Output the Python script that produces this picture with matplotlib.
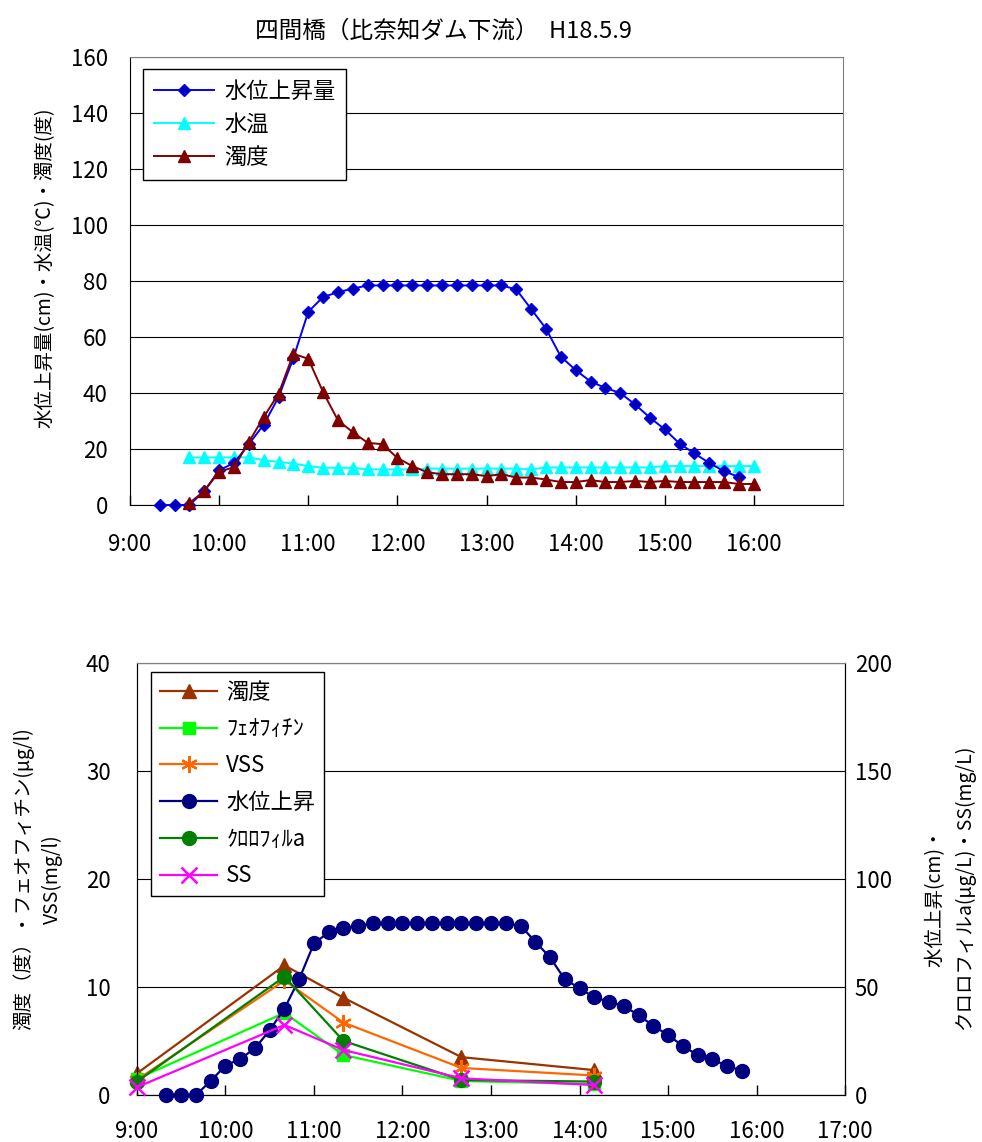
import matplotlib
matplotlib.use('Agg')
import matplotlib.pyplot as plt

plt.rcParams['font.family'] = ['Noto Sans CJK JP', 'DejaVu Sans']

# ---------------- data ----------------
title = '四間橋（比奈知ダム下流）  H18.5.9'

# water level, every 10 min from 9:20 to 15:50
level_times = ['9:20', '9:30', '9:40', '9:50', '10:00', '10:10', '10:20', '10:30', '10:40', '10:50',
               '11:00', '11:10', '11:20', '11:30', '11:40', '11:50', '12:00', '12:10', '12:20', '12:30',
               '12:40', '12:50', '13:00', '13:10', '13:20', '13:30', '13:40', '13:50', '14:00', '14:10',
               '14:20', '14:30', '14:40', '14:50', '15:00', '15:10', '15:20', '15:30', '15:40', '15:50']
level_top = [0, 0, 0, 5, 12.4, 15, 21.7, 28.7, 38.5, 52.5,
             69, 74.3, 76, 77.3, 78.4, 78.4, 78.4, 78.4, 78.4, 78.4,
             78.4, 78.4, 78.4, 78.4, 77, 70, 63, 53, 48.2, 44.1,
             41.8, 40, 35.9, 31.2, 27, 21.9, 18.4, 15, 12, 10]

# water temperature / turbidity, every 10 min from 9:40 to 16:00
probe_times = ['9:40', '9:50', '10:00', '10:10', '10:20', '10:30', '10:40', '10:50', '11:00', '11:10',
               '11:20', '11:30', '11:40', '11:50', '12:00', '12:10', '12:20', '12:30', '12:40', '12:50',
               '13:00', '13:10', '13:20', '13:30', '13:40', '13:50', '14:00', '14:10', '14:20', '14:30',
               '14:40', '14:50', '15:00', '15:10', '15:20', '15:30', '15:40', '15:50', '16:00']
water_temp = [17, 17, 17, 17, 17, 16, 15.4, 14.8, 13.9, 13.3,
              13.3, 13.3, 12.7, 12.7, 12.7, 12.7, 13, 13, 13, 13,
              13, 13, 13, 12.7, 13.4, 13.4, 13.4, 13.4, 13.4, 13.4,
              13.4, 13.4, 13.9, 13.9, 13.9, 13.9, 13.9, 13.9, 13.9]
turbidity_top = [0.7, 5, 11.9, 13.5, 22.5, 31.4, 39.7, 54, 52.2, 40.3,
                 30.2, 26, 22.2, 21.7, 16.8, 13.9, 11.7, 11, 11, 11,
                 10.3, 11, 9.8, 9.8, 9.1, 8.2, 8.2, 8.9, 8.2, 8.2,
                 8.6, 8.2, 8.6, 8.2, 8.2, 8.2, 8.2, 7.5, 7.5]

# bottom chart: water level on the right axis
level_bottom = [0, 0, 0, 6.5, 13.6, 16.7, 21.6, 30, 40, 53.7,
                70.2, 75.3, 77.2, 78.4, 79.5, 79.5, 79.5, 79.5, 79.5, 79.5,
                79.5, 79.5, 79.5, 79.5, 78.4, 71, 63.7, 53.6, 49.4, 45.2,
                43.2, 41.2, 37, 32, 27.8, 22.7, 18.5, 16.5, 13.4, 11.3]

# water samples
sample_times = ['9:00', '10:40', '11:20', '12:40', '14:10']
turbidity_smp = [2.0, 12.0, 9.0, 3.5, 2.3]       # left axis
pheophytin = [1.5, 7.6, 3.7, 1.3, 1.0]           # left axis
vss = [1.4, 10.6, 6.7, 2.5, 1.8]                 # left axis
chlorophyll = [6.2, 54.8, 25, 6.9, 6.2]          # right axis
ss = [3.6, 32.4, 20.8, 7.7, 4.6]                 # right axis

hour_labels = ['9:00', '10:00', '11:00', '12:00', '13:00', '14:00', '15:00', '16:00', '17:00']


def to_hours(times):
   out = []
   for t in times:
      h, m = t.split(':')
      out.append(int(h) + int(m) / 60)
   return out


def style_xaxis(ax, labels, pad):
   ticks = to_hours(labels)
   ax.set_xlim(9, 17)
   ax.set_xticks(ticks)
   ax.set_xticklabels(labels)
   ax.tick_params(axis='x', direction='in', length=7, width=1, pad=pad, labelsize=16)


fig = plt.figure(figsize=(9.82, 11.42), dpi=100)

# ---------------- top chart ----------------
ax = fig.add_axes([0.1324, 0.5578, 0.7261, 0.3923])
ax.plot(to_hours(level_times), level_top, color='#0000FF', lw=1.4, marker='D', ms=6,
        mfc='#0000B0', mec='#0000FF', label='水位上昇量', clip_on=False, zorder=4)
ax.plot(to_hours(probe_times), water_temp, color='#00FFFF', lw=1.4, marker='^', ms=8,
        mfc='#00FFFF', mec='#00FFFF', label='水温', clip_on=False, zorder=3)
ax.plot(to_hours(probe_times), turbidity_top, color='#800000', lw=1.4, marker='^', ms=8,
        mfc='#800000', mec='#800000', label='濁度', clip_on=False, zorder=5)

ax.set_ylim(0, 160)
ax.set_yticks(range(0, 161, 20))
ax.tick_params(axis='y', length=0, pad=16, labelsize=16)
style_xaxis(ax, hour_labels[:-1], 20)
ax.grid(axis='y', color='black', lw=0.8)
ax.set_axisbelow(True)
for side in ['top', 'right']:
   ax.spines[side].set_color('#808080')
ax.set_ylabel('水位上昇量(cm)・水温(℃)・濁度(度)', fontsize=14, va='center')
ax.yaxis.set_label_coords(-0.119, 0.53)
ax.set_title(title, fontsize=17, pad=14, x=0.44)

leg = ax.legend(loc='upper left', bbox_to_anchor=(0.018, 0.974), borderaxespad=0, fontsize=16,
                frameon=True, fancybox=False, edgecolor='black', framealpha=1, handlelength=2.7,
                handletextpad=0.45, labelspacing=0.45, borderpad=0.5)
leg.get_frame().set_linewidth(1)

# ---------------- bottom chart ----------------
bx = fig.add_axes([0.1395, 0.0412, 0.7210, 0.3782])
bx2 = bx.twinx()

sx = to_hours(sample_times)
h1, = bx.plot(sx, turbidity_smp, color='#993300', lw=1.6, marker='^', ms=10, label='濁度',
              clip_on=False, zorder=3)
h2, = bx.plot(sx, pheophytin, color='#00FF00', lw=1.6, marker='s', ms=9, label='ﾌｪｵﾌｨﾁﾝ',
              clip_on=False, zorder=3)
h3, = bx.plot(sx, vss, color='#FF6600', lw=1.6, marker=(6, 2, 0), ms=12, mew=1.6, label='VSS',
              clip_on=False, zorder=3)
h4, = bx2.plot(to_hours(level_times), level_bottom, color='#000080', lw=1.6, marker='o', ms=10,
               label='水位上昇', clip_on=False, zorder=3)
h5, = bx2.plot(sx, chlorophyll, color='#008000', lw=1.6, marker='o', ms=10, label='ｸﾛﾛﾌｨﾙa',
               clip_on=False, zorder=4)
h6, = bx2.plot(sx, ss, color='#FF00FF', lw=1.6, marker='x', ms=11, mew=1.8, label='SS',
               clip_on=False, zorder=5)

bx.set_ylim(0, 40)
bx.set_yticks(range(0, 41, 10))
bx.tick_params(axis='y', length=0, pad=19, labelsize=16)
bx2.set_ylim(0, 200)
bx2.set_yticks(range(0, 201, 50))
bx2.tick_params(axis='y', length=0, pad=7, labelsize=16)
style_xaxis(bx, hour_labels, 18)
bx.grid(axis='y', color='black', lw=0.8)
bx.set_axisbelow(True)
bx.spines['top'].set_color('#808080')
bx2.spines['top'].set_color('#808080')

bx.set_ylabel('濁度（度）・フェオフィチン(μg/l)\nVSS(mg/l)', fontsize=14, linespacing=1.5,
              va='center', ha='center')
bx.yaxis.set_label_coords(-0.14, 0.5)
bx2.set_ylabel('水位上昇(cm)・　\nクロロフィルa(μg/L)・SS(mg/L)', fontsize=14, linespacing=1.5,
               rotation=90, va='center', ha='center')
bx2.yaxis.set_label_coords(1.148, 0.48)

leg2 = bx2.legend(handles=[h1, h2, h3, h4, h5, h6], loc='upper left', bbox_to_anchor=(0.0194, 0.98),
                  borderaxespad=0, fontsize=16, frameon=True, fancybox=False, edgecolor='black',
                  framealpha=1, handlelength=2.6, handletextpad=0.4, labelspacing=0.62, borderpad=0.4)
leg2.get_frame().set_linewidth(1)

fig.savefig('out.png', dpi=100, facecolor='white')
